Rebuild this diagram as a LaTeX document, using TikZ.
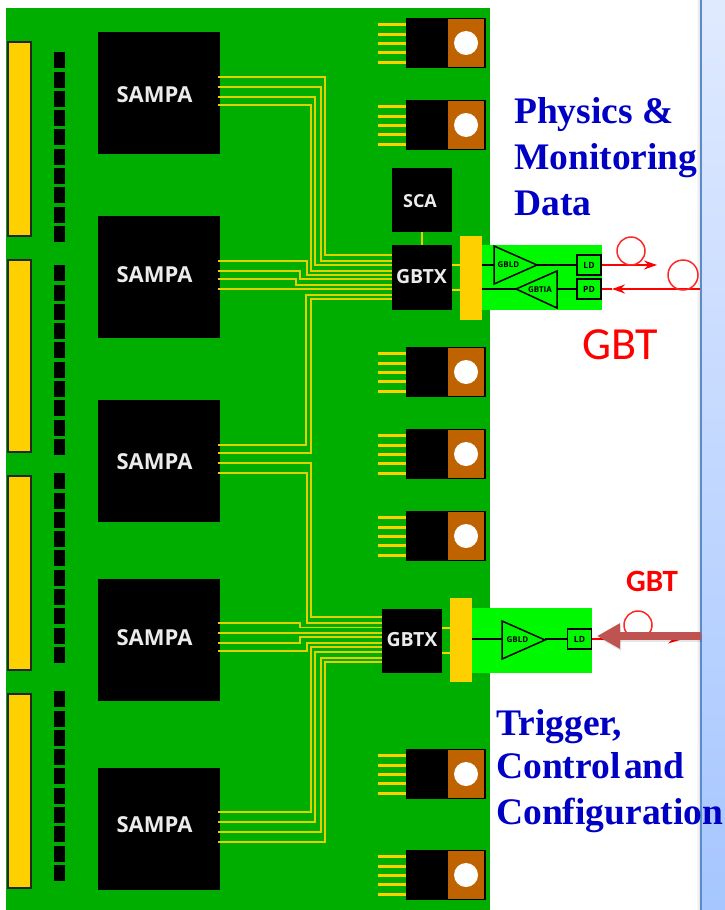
\documentclass[tikz,border=0pt]{standalone}
\usepackage{fontspec}
\setmainfont{Liberation Serif}
\setsansfont{Open Sans}
\newfontfamily\calfont{Carlito}
\usetikzlibrary{arrows.meta}
\definecolor{boardgreen}{HTML}{00AE00}
\definecolor{brightgreen}{HTML}{00F800}
\definecolor{goldbar}{HTML}{FFD000}
\definecolor{tracegold}{HTML}{E2D000}
\definecolor{tabbrown}{HTML}{BF6200}
\definecolor{titleblue}{HTML}{0000C4}
\definecolor{arrowred}{HTML}{BE5350}
\definecolor{stripedge}{HTML}{5B8BC9}
\definecolor{striptop}{HTML}{E0EAFF}
\definecolor{stripbottom}{HTML}{A6C6FF}
\tikzset{chip/.style={fill=black,inner sep=0pt},
  chiplabel/.style={text=white!92!black,inner sep=0pt,font=\sffamily\bfseries\fontsize{19.5}{19.5}\selectfont},
  sampa/.style={chip,minimum width=122pt,minimum height=122pt},
  sampalabel/.style={chiplabel,font=\sffamily\bfseries\fontsize{22}{22}\selectfont},
  gbtx/.style={chip,minimum width=60pt,minimum height=64pt},
  trace/.style={draw=tracegold,line width=1.7pt},
  regpin/.style={draw=goldbar,line width=3pt},
  conn/.style={fill=goldbar,draw=black!85,line width=1.5pt,inner sep=0pt,minimum width=23pt},
  pad/.style={fill=black,inner sep=0pt,minimum width=11pt,minimum height=16pt},
  regbody/.style={fill=black,inner sep=0pt,minimum width=80pt,minimum height=50pt},
  tab/.style={fill=tabbrown,draw=black,line width=1pt,inner sep=0pt,minimum width=37pt,minimum height=49pt},
  hole/.style={circle,fill=white,inner sep=0pt,minimum size=24pt},
  goldbox/.style={fill=goldbar,inner sep=0pt,minimum width=22pt,minimum height=84pt},
  panel/.style={fill=brightgreen,inner sep=0pt,minimum height=65pt},
  opt/.style={draw=black,line width=1.5pt,inner sep=0pt,minimum width=24pt,minimum height=20pt,font=\sffamily\bfseries\fontsize{8.5}{8.5}\selectfont},
  amp/.style={font=\sffamily\bfseries\fontsize{8}{8}\selectfont,inner sep=0pt},
  amptri/.style={draw=black,line width=1.5pt},
  wire/.style={draw=black,line width=1.5pt},
  fibre/.style={draw=red,line width=1.6pt},
  loopfibre/.style={draw=red!85!white,line width=1.5pt,circle,inner sep=0pt},
  blabel/.style={text=titleblue,anchor=base west,inner sep=0pt,font=\rmfamily\bfseries\fontsize{37.5}{37.5}\selectfont}}
\begin{document}
\begin{tikzpicture}[x=1pt,y=-1pt]
\useasboundingbox (0,0) rectangle (725,910);
\shade[left color=white,right color=black!12] (696,0) rectangle (700,910);
\shade[top color=striptop,bottom color=stripbottom] (700,0) rectangle (725,910);
\fill[stripedge] (700,0) rectangle (702,910);
\fill[boardgreen] (6,8) rectangle (490,910);
\node[panel,minimum width=120pt] (panela) at (542,277.5) {};
\node[panel,minimum width=120pt] (panelb) at (532,640) {};
\foreach \name/\ya/\len in {conna/41/194,connb/259/192,connc/475/194,connd/693/194}
  \node[conn,minimum height=\len pt,anchor=north west] (\name) at (7,\ya) {};
\foreach \ya in {52,265,473,691}
  \foreach \i in {0,...,9}
    \node[pad,anchor=north west] (pad\ya-\i) at (54,\ya+\i*19.3) {};
\foreach \name/\yc/\yt in {sampaa/93/95,sampab/277/275,sampac/461/462,sampad/640/638,sampae/829/825}{
  \node[sampa] (\name) at (159,\yc) {};
  \node[sampalabel] (\name text) at (154.5,\yt) {SAMPA};
}
\node[chip,minimum width=60pt,minimum height=64pt] (sca) at (422,200) {};
\node[chiplabel,font=\sffamily\bfseries\fontsize{18}{18}\selectfont] (scatext) at (420,201) {SCA};
\node[gbtx,minimum height=65pt] (gbtxa) at (422,277.5) {};
\node[chiplabel] (gbtxatext) at (421.5,277) {GBTX};
\node[gbtx] (gbtxb) at (412,640.5) {};
\node[chiplabel] (gbtxbtext) at (412,640) {GBTX};
\foreach \from/\to/\ya/\xv/\yb in {
  sampaa/gbtxa/77/325/255,sampaa/gbtxa/87/321/261,sampaa/gbtxa/97/315/265,sampaa/gbtxa/105/311/271,
  sampab/gbtxa/261/307/275,sampab/gbtxa/271/300/279,sampab/gbtxa/279/296/285,sampab/gbtxa/289/296/289,
  sampac/gbtxa/445/306/295,sampac/gbtxa/453/311/299,
  sampac/gbtxb/463/311/617,sampac/gbtxb/473/307/623,
  sampad/gbtxb/623/300/627.5,sampad/gbtxb/633/300/633,sampad/gbtxb/643/300/637,sampad/gbtxb/651/307/643,
  sampae/gbtxb/812/311/647,sampae/gbtxb/822/315/652,sampae/gbtxb/832/321/658,sampae/gbtxb/842/325/662}
  \draw[trace,shorten <=-2pt] (\from.east |- 0,\ya) -- (\xv,\ya) -- (\xv,\yb) -- (\to.west |- 0,\yb);
\draw[trace] (sca) -- (gbtxa);
\node[goldbox] (bara) at (471,277.5) {};
\node[goldbox] (barb) at (461,640) {};
\foreach \yy in {265,290} \draw[regpin,line width=2.5pt] (gbtxa.east |- 0,\yy) -- (bara.west |- 0,\yy);
\foreach \yy in {628,653} \draw[regpin,line width=2.5pt] (gbtxb.east |- 0,\yy) -- (barb.west |- 0,\yy);
\foreach \name/\yc in {rega/43,regb/125,regc/372,regd/454,rege/536,regf/774,regg/875}{
  \node[regbody,anchor=west] (\name) at (406,\yc) {};
  \node[tab,anchor=east] (\name tab) at (485,\yc) {};
  \node[hole] (\name hole) at (466,\yc) {};
  \foreach \yy in {-19,-9,0,9,19}
    \draw[regpin] (\name.west |- 0,\yc+\yy) -- ++(-28,0);
}
\node[opt] (lda) at (589,265) {LD};
\node[opt] (pda) at (589,289) {PD};
\node[opt] (ldb) at (579.5,639) {LD};
\coordinate (txa) at (bara.east |- 0,265);
\coordinate (rxa) at (bara.east |- 0,289);
\coordinate (txb) at (barb.east |- 0,639);
\draw[amptri,fill=brightgreen] (494,246) -- (494,284) -- (537,265) -- cycle;
\draw[amptri,fill=brightgreen] (557,271) -- (557,308) -- (516,289) -- cycle;
\draw[amptri,fill=brightgreen] (502,621) -- (502,659) -- (545,640) -- cycle;
\node[amp] (gblda) at (508.5,265) {GBLD};
\node[amp] (gbtia) at (540,289.5) {GBTIA};
\node[amp] (gbldb) at (517.5,640) {GBLD};
\draw[wire] (txa) -- (494,265) (537,265) -- (lda);
\draw[wire] (rxa) -- (516,289) (557,289) -- (pda);
\draw[wire] (txb) -- (502,639) (545,639) -- (ldb);
\coordinate (fibrea) at (657,265);
\coordinate (fibreb) at (700,289);
\coordinate (fibrec) at (612,289);
\coordinate (fibred) at (683,639);
\coordinate (arrowtail) at (701,636);
\coordinate (arrowtip) at (597,636);
\draw[fibre,-{Stealth[length=13pt,width=9pt]}] (lda) -- (fibrea);
\draw[fibre,-{Stealth[length=13pt,width=9pt]}] (fibreb) -- (fibrec);
\draw[fibre] (fibrec) -- (pda);
\draw[fibre,-{Stealth[length=15pt,width=9pt]}] (ldb) -- (fibred);
\node[loopfibre,minimum size=28pt] (loopa) at (631,251) {};
\node[loopfibre,minimum size=30pt] (loopb) at (683,275) {};
\node[loopfibre,minimum size=28pt] (loopc) at (638,625) {};
\draw[black,opacity=.1,line width=8pt,-{Triangle[length=23pt,width=24pt]}] ([shift={(1,2)}]arrowtail) -- ([shift={(1,2)}]arrowtip);
\draw[arrowred,line width=8pt,-{Triangle[length=23pt,width=24pt]}] (arrowtail) -- (arrowtip);
\node[blabel] (physics) at (514,123) {Physics \&};
\node[blabel] (monitoring) at (514,169) {Monitoring};
\node[blabel] (data) at (514,215) {Data};
\node[blabel] (trigger) at (496,735) {Trigger,};
\node[blabel] (control) at (496,778) {Control\hspace{.1em}and};
\node[blabel] (config) at (496,824) {Configuration};
\node[text=red,anchor=base west,inner sep=0pt,font=\calfont\fontsize{46}{46}\selectfont] (gbta) at (582,359) {GBT};
\node[text=red,anchor=base west,inner sep=0pt,font=\calfont\bfseries\fontsize{31}{31}\selectfont] (gbtb) at (626,591) {GBT};
\end{tikzpicture}
\end{document}
